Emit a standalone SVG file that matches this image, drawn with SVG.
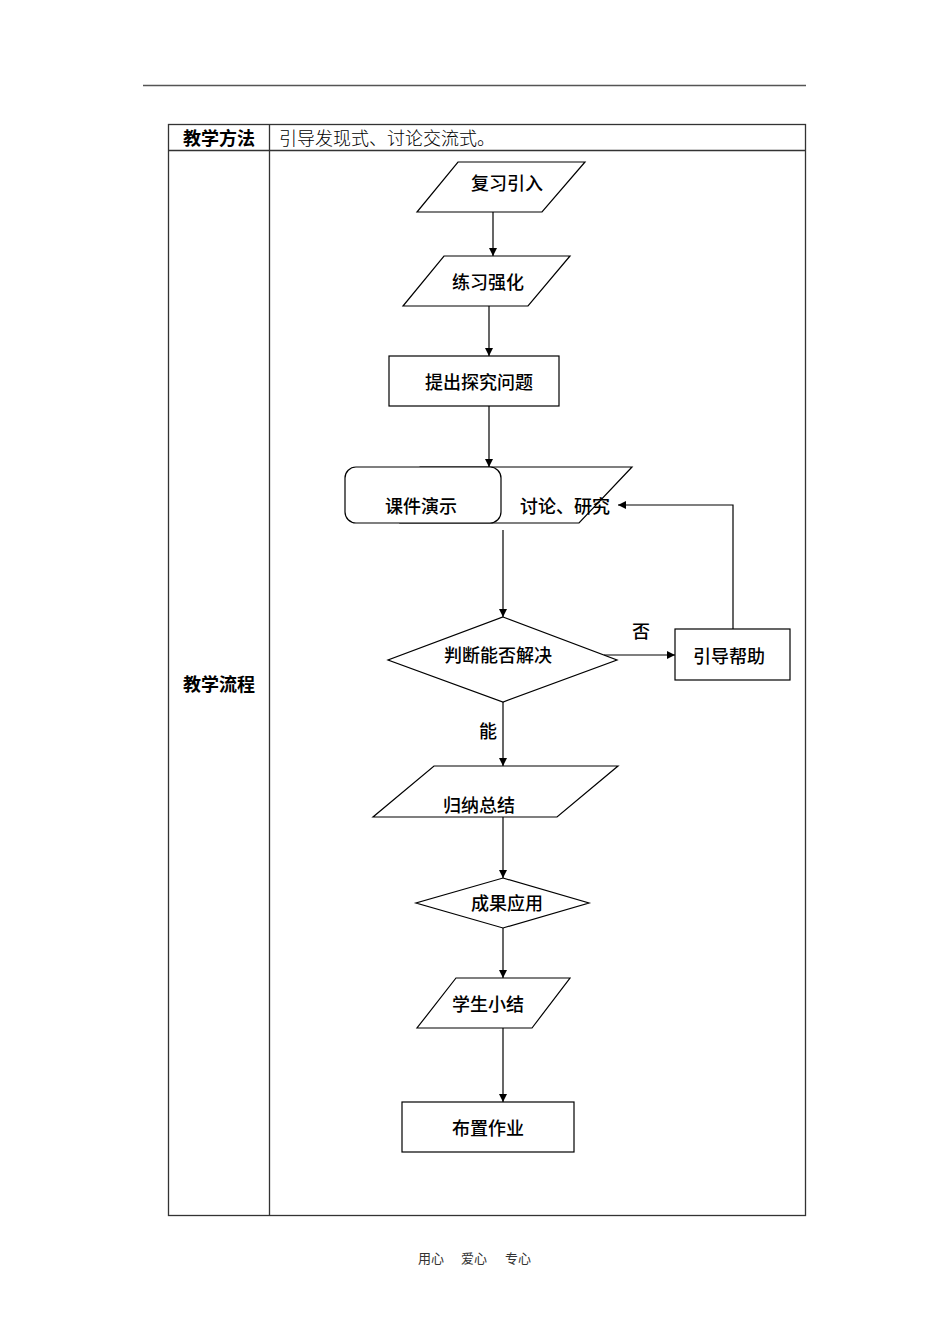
<svg xmlns="http://www.w3.org/2000/svg" width="950" height="1344" viewBox="0 0 950 1344">
<defs>
<style>
.t{font-family:"Noto Sans CJK SC","Noto Sans",sans-serif;fill:#000}
.fl{font-size:18px;font-weight:500;text-anchor:middle;dominant-baseline:central}
.sh{fill:#fff;stroke:#000;stroke-width:1.2}
.cn{fill:none;stroke:#000;stroke-width:1.2}
.tb{fill:none;stroke:#333;stroke-width:1.3}
.ft{font-family:"Noto Sans CJK SC",serif;font-size:13px;fill:#333;text-anchor:middle;dominant-baseline:central}
</style>
<marker id="ah" viewBox="0 0 10 10" refX="10" refY="5" markerWidth="8" markerHeight="8" markerUnits="userSpaceOnUse" orient="auto">
<path d="M0,0 L10,5 L0,10 z" fill="#000"/>
</marker>
</defs>
<rect width="950" height="1344" fill="#fff"/>
<line x1="143" y1="85.5" x2="806" y2="85.5" stroke="#555" stroke-width="1.5"/>
<g id="table">
<rect class="tb" x="168.5" y="124.5" width="637" height="1091"/>
<line class="tb" x1="168.5" y1="150.5" x2="805.5" y2="150.5"/>
<line class="tb" x1="269.5" y1="124.5" x2="269.5" y2="1215.5"/>
<text class="t" x="219" y="137" font-size="18" font-weight="bold" text-anchor="middle" dominant-baseline="central">教学方法</text>
<text class="t" x="279" y="137" font-size="18" font-weight="300" dominant-baseline="central">引导发现式、讨论交流式。</text>
<text class="t" x="219" y="683" font-size="18" font-weight="bold" text-anchor="middle" dominant-baseline="central">教学流程</text>
</g>
<g id="connectors">
<line class="cn" x1="493" y1="212" x2="493" y2="256" marker-end="url(#ah)"/>
<line class="cn" x1="489" y1="306" x2="489" y2="356" marker-end="url(#ah)"/>
<line class="cn" x1="489" y1="406" x2="489" y2="467" marker-end="url(#ah)"/>
<line class="cn" x1="503" y1="530" x2="503" y2="617" marker-end="url(#ah)"/>
<line class="cn" x1="604" y1="655" x2="675" y2="655" marker-end="url(#ah)"/>
<polyline class="cn" points="733,629 733,505 618,505" marker-end="url(#ah)"/>
<line class="cn" x1="503" y1="702" x2="503" y2="766" marker-end="url(#ah)"/>
<line class="cn" x1="503" y1="817" x2="503" y2="878" marker-end="url(#ah)"/>
<line class="cn" x1="503" y1="928" x2="503" y2="978" marker-end="url(#ah)"/>
<line class="cn" x1="503" y1="1028" x2="503" y2="1102" marker-end="url(#ah)"/>
<text class="t fl" x="641" y="630">否</text>
<text class="t fl" x="488" y="730">能</text>
</g>
<g id="n1">
<polygon class="sh" points="458,162 585,162 542,212 417,212"/>
<text class="t fl" x="507" y="182">复习引入</text>
</g>
<g id="n2">
<polygon class="sh" points="444,256 570,256 528,306 403,306"/>
<text class="t fl" x="488" y="281">练习强化</text>
</g>
<g id="n3">
<rect class="sh" x="389" y="356" width="170" height="50"/>
<text class="t fl" x="479" y="381">提出探究问题</text>
</g>
<g id="n4">
<polygon class="sh" points="420,467 632,467 579,523 400,523"/>
<rect class="sh" x="345" y="467" width="156" height="56" rx="11"/>
<text class="t fl" x="421" y="505">课件演示</text>
<text class="t fl" x="565" y="505">讨论、研究</text>
</g>
<g id="n5">
<polygon class="sh" points="503,617 617,660 503,702 388,660"/>
<text class="t fl" x="498" y="654">判断能否解决</text>
</g>
<g id="n6">
<rect class="sh" x="675" y="629" width="115" height="51"/>
<text class="t fl" x="729" y="655">引导帮助</text>
</g>
<g id="n7">
<polygon class="sh" points="434,766 618,766 557,817 373,817"/>
<text class="t fl" x="479" y="804">归纳总结</text>
</g>
<g id="n8">
<polygon class="sh" points="503,878 589,903 503,928 416,903"/>
<text class="t fl" x="507" y="902">成果应用</text>
</g>
<g id="n9">
<polygon class="sh" points="456,978 570,978 532,1028 417,1028"/>
<text class="t fl" x="488" y="1003">学生小结</text>
</g>
<g id="n10">
<rect class="sh" x="402" y="1102" width="172" height="50"/>
<text class="t fl" x="488" y="1127">布置作业</text>
</g>
<text class="ft" x="431" y="1257">用心</text>
<text class="ft" x="474" y="1257">爱心</text>
<text class="ft" x="518" y="1257">专心</text>
</svg>
